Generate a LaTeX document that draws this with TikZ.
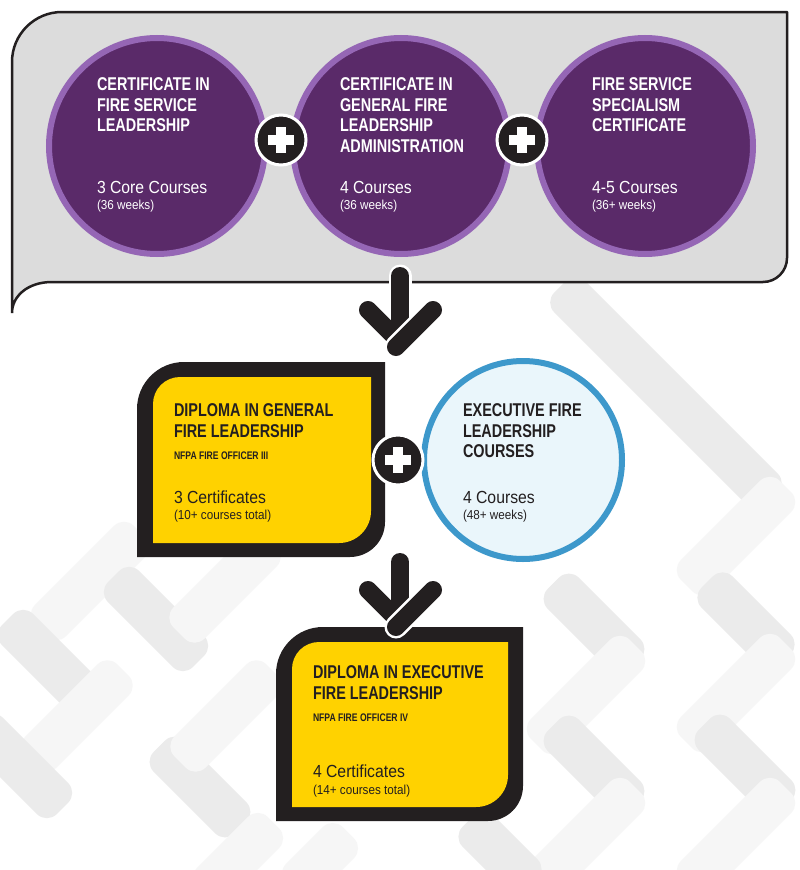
\documentclass[tikz,border=0pt]{standalone}
\usepackage{fontspec}
\setmainfont{Liberation Sans}
\newfontfamily\hb{Liberation Sans}[FakeStretch=0.78]
\newfontfamily\hr{Liberation Sans}[FakeStretch=0.9]
\usetikzlibrary{calc}
\definecolor{panel}{HTML}{DCDCDC}
\definecolor{ink}{HTML}{231F20}
\definecolor{purp}{HTML}{5A2A69}
\definecolor{purpl}{HTML}{9566B5}
\definecolor{yel}{HTML}{FFD200}
\definecolor{blu}{HTML}{3D98CB}
\definecolor{bluf}{HTML}{EAF6FB}
\definecolor{bgd}{HTML}{EBEBEB}
\definecolor{bgl}{HTML}{F6F6F6}
\newcommand\bandD[3]{\fill[bgd,rounded corners=14pt,rotate around={-45:(#1,#2)}] ({#1-#3/2},{#2-22}) rectangle ({#1+#3/2},{#2+22});}
\newcommand\bandL[3]{\fill[bgl,rounded corners=14pt,rotate around={45:(#1,#2)}] ({#1-#3/2},{#2-22}) rectangle ({#1+#3/2},{#2+22});}
\begin{document}
\begin{tikzpicture}[x=1pt,y=-1pt,
  panelst/.style={fill=panel,draw=ink,line width=2.5pt,line join=round},
  pc/.style={circle,fill=purp,draw=purpl,line width=6pt,minimum size=216pt,inner sep=0pt},
  bc/.style={circle,fill=bluf,draw=blu,line width=6pt,minimum size=198pt,inner sep=0pt},
  plusc/.style={circle,fill=ink,draw=white,line width=3pt,minimum size=50pt,inner sep=0pt},
  plusbar/.style={fill=white},
  armw/.style={draw=white,line width=23pt,line cap=round},
  armk/.style={draw=ink,line width=18pt,line cap=round},
  tx/.style={anchor=base west,inner sep=0pt,outer sep=0pt},
  ttl/.style={tx,font=\hb\bfseries\fontsize{18.5}{20}\selectfont},
  sub/.style={tx,font=\hr\fontsize{17.5}{20}\selectfont},
  sml/.style={tx,font=\hr\fontsize{13}{15}\selectfont},
  nf/.style={tx,font=\hb\bfseries\fontsize{11}{13}\selectfont},
  wt/.style={text=white},
  dk/.style={text=ink}]
\useasboundingbox (0,0) rectangle (800,870);
\fill[white] (0,0) rectangle (800,870);
% background chevron pattern
\bandD{666}{393}{300}
\bandL{736}{536}{140}
\bandD{746}{621}{110}
\bandL{736}{693}{140}
\bandD{745}{765}{115}
\bandL{736}{837}{140}
\bandD{594}{624}{115}
\bandL{586}{695}{140}
\bandD{594}{766}{115}
\bandL{586}{837}{140}
\bandL{90}{581}{140}
\bandD{156}{619}{120}
\bandL{225}{587}{130}
\bandD{50}{662}{120}
\bandL{77}{716}{130}
\bandD{20}{766}{120}
\bandD{200}{787}{115}
\bandL{226}{716}{130}
\bandL{238}{858}{100}
\bandD{500}{853}{90}
\bandL{320}{861}{80}
% top panel
\draw[panelst] (12,313) -- (12,62) arc[start angle=180,end angle=270,radius=50]
  -- (787,12) -- (787,258) arc[start angle=0,end angle=90,radius=24]
  -- (52,282) .. controls (28,282) and (12,296) .. (12,313);
% purple circles
\node[pc] (c1) at (157,146) {};
\node[pc] (c2) at (401,146) {};
\node[pc] (c3) at (645,146) {};
\node[plusc] (p1) at (281,140) {};
\node[plusc] (p2) at (522,140) {};
% circle texts
\node[ttl,wt] (c1a) at (97,90) {CERTIFICATE IN};
\node[ttl,wt] (c1b) at (97,111) {FIRE SERVICE};
\node[ttl,wt] (c1c) at (97,131) {LEADERSHIP};
\node[sub,wt] (c1d) at (97,193) {3 Core Courses};
\node[sml,wt] (c1e) at (97,209) {(36 weeks)};
\node[ttl,wt] (c2a) at (340,90) {CERTIFICATE IN};
\node[ttl,wt] (c2b) at (340,111) {GENERAL FIRE};
\node[ttl,wt] (c2c) at (340,131) {LEADERSHIP};
\node[ttl,wt] (c2d) at (340,152) {ADMINISTRATION};
\node[sub,wt] (c2e) at (340,193) {4 Courses};
\node[sml,wt] (c2f) at (340,209) {(36 weeks)};
\node[ttl,wt] (c3a) at (592,90) {FIRE SERVICE};
\node[ttl,wt] (c3b) at (592,111) {SPECIALISM};
\node[ttl,wt] (c3c) at (592,131) {CERTIFICATE};
\node[sub,wt] (c3d) at (592,193) {4-5 Courses};
\node[sml,wt] (c3e) at (592,209) {(36+ weeks)};
% diploma box 1
\fill[ink] (137,557) -- (137,409) arc[start angle=180,end angle=270,radius=47]
  -- (385,362) -- (385,522) arc[start angle=0,end angle=90,radius=35] -- cycle;
\fill[yel] (153,543) -- (153,404) arc[start angle=180,end angle=270,radius=27]
  -- (371,377) -- (371,511) arc[start angle=0,end angle=90,radius=32] -- cycle;
\node[bc] (ex) at (523,460) {};
\node[plusc] (p3) at (398,460) {};
\node[ttl,dk] (d1a) at (174,416) {DIPLOMA IN GENERAL};
\node[ttl,dk] (d1b) at (174,437) {FIRE LEADERSHIP};
\node[nf,dk] (d1c) at (174,459) {NFPA FIRE OFFICER III};
\node[sub,dk] (d1d) at (174,503) {3 Certificates};
\node[sml,dk] (d1e) at (174,519) {(10+ courses total)};
\node[ttl,dk] (e1a) at (463,416) {EXECUTIVE FIRE};
\node[ttl,dk] (e1b) at (463,437) {LEADERSHIP};
\node[ttl,dk] (e1c) at (463,457) {COURSES};
\node[sub,dk] (e1d) at (463,503) {4 Courses};
\node[sml,dk] (e1e) at (463,519) {(48+ weeks)};
% diploma box 2
\fill[ink] (276,821) -- (276,674) arc[start angle=180,end angle=270,radius=47]
  -- (523,627) -- (523,786) arc[start angle=0,end angle=90,radius=35] -- cycle;
\fill[yel] (292,807) -- (292,669) arc[start angle=180,end angle=270,radius=27]
  -- (508,642) -- (508,775) arc[start angle=0,end angle=90,radius=32] -- cycle;
\node[ttl,dk] (d2a) at (313,678) {DIPLOMA IN EXECUTIVE};
\node[ttl,dk] (d2b) at (313,699) {FIRE LEADERSHIP};
\node[nf,dk] (d2c) at (313,721) {NFPA FIRE OFFICER IV};
\node[sub,dk] (d2d) at (313,777) {4 Certificates};
\node[sml,dk] (d2e) at (313,794) {(14+ courses total)};
% plus signs
\foreach \p in {p1,p2,p3}{
  \fill[plusbar] ($(\p)+(-13,-5)$) rectangle ($(\p)+(13,5)$);
  \fill[plusbar] ($(\p)+(-5,-13)$) rectangle ($(\p)+(5,13)$);
}
% chevron arrows
\coordinate (a1) at (400,308);
\coordinate (a2) at (400,588);
\foreach \a/\s in {a1/32,a2/26}{
  \draw[armw] ($(\a)+(0,-\s)$) -- ($(\a)+(0,14)$);
  \draw[armk] ($(\a)+(0,-\s)$) -- ($(\a)+(0,14)$);
  \draw[armk] ($(\a)+(-32,2)$) -- ($(\a)+(-5,29)$);
  \draw[armw] ($(\a)+(33,2)$) -- ($(\a)+(-4,39)$);
  \draw[armk] ($(\a)+(33,2)$) -- ($(\a)+(-4,39)$);
}
\end{tikzpicture}
\end{document}
